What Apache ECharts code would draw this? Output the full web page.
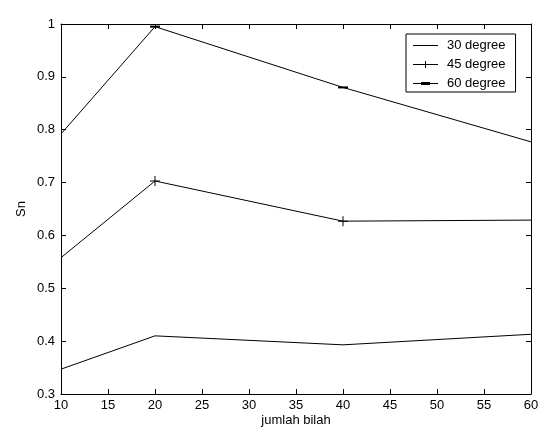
<!DOCTYPE html>
<html>
<head>
<meta charset="utf-8">
<script src="https://cdn.jsdelivr.net/npm/echarts@6/dist/echarts.min.js"></script>
<style>
  html, body { margin: 0; padding: 0; background: #fff; }
  #chart { width: 556px; height: 437px; }
</style>
</head>
<body>
<div id="chart"></div>
<script>
  var jumlahBilah = [10, 20, 40, 60];
  var deg30 = [0.347, 0.410, 0.393, 0.413];
  var deg45 = [0.558, 0.703, 0.627, 0.629];
  var deg60 = [0.792, 0.995, 0.880, 0.777];
  var seriesNames = ['30 degree', '45 degree', '60 degree'];

  var FONT = 'Liberation Sans, Arial, sans-serif';
  var plusPath = 'path://M0,4.5H10V5.5H0Z M4.5,0H5.5V10H4.5Z';
  var legendIcons = [
    'path://M0,5.5H25V6.5H0Z',
    'path://M0,5.5H25V6.5H0Z M12,2.5H13V9.5H12Z',
    'path://M0,5.5H25V6.5H0Z M8,4.5H17V7.5H8Z'
  ];

  // markers only on the inner points, the ends sit on the box
  function pairs(ys, sym) {
    return jumlahBilah.map(function (x, i) {
      var inner = i > 0 && i < jumlahBilah.length - 1;
      return { value: [x, ys[i]], symbol: inner ? sym : 'none' };
    });
  }

  function axisBase(extra) {
    var base = {
      type: 'value',
      axisLine: { show: true, lineStyle: { color: '#000', width: 1 } },
      axisTick: { show: true, inside: true, length: 5, lineStyle: { color: '#000' } },
      splitLine: { show: false },
      axisLabel: { show: true, color: '#000', fontFamily: FONT, fontSize: 13 }
    };
    return Object.assign(base, extra);
  }

  var chart = echarts.init(document.getElementById('chart'));

  chart.setOption({
    backgroundColor: '#fff',
    animation: false,
    grid: { left: 61, top: 24, right: 25, bottom: 43 },
    legend: {
      orient: 'vertical',
      left: 406,
      top: 34,
      padding: [5, 10, 2, 7],
      itemWidth: 25,
      itemHeight: 12,
      itemGap: 6,
      symbolKeepAspect: true,
      borderColor: '#000',
      borderWidth: 1,
      borderRadius: 0,
      backgroundColor: '#fff',
      textStyle: { color: '#000', fontFamily: FONT, fontSize: 13, padding: [0, 0, 0, 4] },
      data: seriesNames.map(function (n, i) {
        return { name: n, icon: legendIcons[i] };
      })
    },
    xAxis: [
      axisBase({
        min: 10, max: 60, interval: 5,
        name: 'jumlah bilah', nameLocation: 'middle', nameGap: 20,
        nameMoveOverlap: false,
        nameTextStyle: { color: '#000', fontFamily: FONT, fontSize: 13 },
        axisLabel: { color: '#000', fontFamily: FONT, fontSize: 13, margin: 5 }
      }),
      axisBase({
        position: 'top', min: 10, max: 60, interval: 5,
        axisLabel: { show: false }
      })
    ],
    yAxis: [
      axisBase({
        min: 0.3, max: 1, interval: 0.1,
        name: 'Sn', nameLocation: 'middle', nameGap: 33,
        nameMoveOverlap: false,
        nameTextStyle: { color: '#000', fontFamily: FONT, fontSize: 13 },
        axisLabel: { color: '#000', fontFamily: FONT, fontSize: 13, margin: 6 }
      }),
      axisBase({
        position: 'right', min: 0.3, max: 1, interval: 0.1,
        axisLabel: { show: false }
      })
    ],
    series: [
      {
        name: seriesNames[0],
        type: 'line',
        data: pairs(deg30, 'none'),
        symbol: 'none',
        lineStyle: { color: '#000', width: 1 },
        itemStyle: { color: '#000' }
      },
      {
        name: seriesNames[1],
        type: 'line',
        data: pairs(deg45, plusPath),
        symbolSize: 10,
        lineStyle: { color: '#000', width: 1 },
        itemStyle: { color: '#000' }
      },
      {
        name: seriesNames[2],
        type: 'line',
        data: pairs(deg60, 'rect'),
        symbolSize: [10, 2],
        lineStyle: { color: '#000', width: 1 },
        itemStyle: { color: '#000' }
      }
    ]
  });
</script>
</body>
</html>
